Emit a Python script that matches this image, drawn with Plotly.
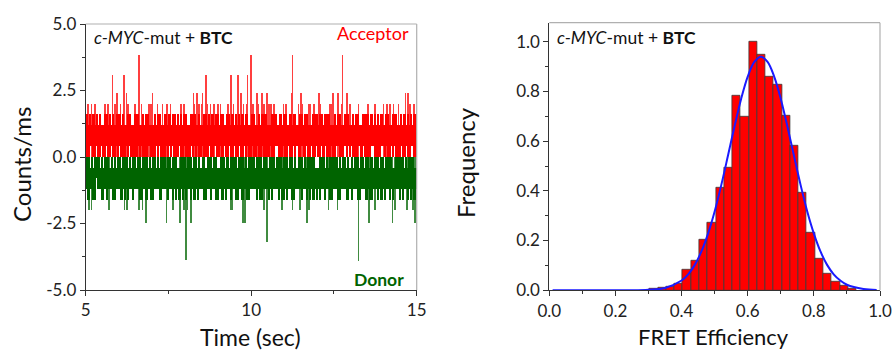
import numpy as np
import plotly.graph_objects as go

# ---------------- data: time trace (counts/ms) ----------------
T_START, T_END = 5.0, 15.0
LEVELS = [0.0, 0.4, 0.8, 1.2, 1.6]   # quantised photon-count levels (counts/ms)

# per 50-ms display bin: pairs of digits (min level, max level) -> index into LEVELS
acceptor_bins = (
    "04031413040314030413" "03041403041304031404" "14030403130414030304"
    "04140313040304141303" "03041304140303041403" "14031404030413040314"
    "04030314041403130403" "13040403140304131404" "03140413030414030413"
    "04031403041304140303" "14040313040314040403" "03130404141303040314"
    "04031304031404130304" "14030414030313040414" "03041403140404031303"
    "04131404030314041403" "13040304141303140404" "04031413040304031413"
    "03140403130414040303" "14030413040314130404"
)
donor_bins = (
    "03041303140402031304" "14030403130314041303" "03140304031403130403"
    "13030414030304130314" "04031303140403031304" "03130403041314030403"
    "14030304130403140313" "03041403030413030414" "13030403140313040303"
    "04140303041303140403" "03031304030414030313" "14030403130304031404"
    "03041303041403130303" "04130314030403041314" "13040303140313040403"
    "03031404130303140413" "04130303041403031304" "03140413030304130403"
    "14030304031413030304" "03041303140304031413"
)

# tall acceptor bursts: (time s, counts/ms)
acc_spike_t = [6.61, 9.98, 11.24, 12.75,
               5.80, 6.14, 8.63, 9.39, 9.60, 9.88,
               5.94, 6.22, 7.01, 8.25, 8.35, 8.52, 9.68, 10.17, 10.31, 10.47,
               11.21, 11.50, 12.05, 12.47, 12.62, 12.89, 14.65, 14.72,
               5.05, 5.17, 5.27, 5.57, 5.67, 5.88, 6.04, 6.26, 6.48, 6.68,
               6.91, 6.96, 7.16, 7.31, 7.45, 7.55, 7.87, 7.97, 8.27, 8.42,
               8.49, 8.67, 8.76, 8.86, 8.98, 9.06, 9.28, 9.46, 9.76, 9.86,
               10.05, 10.21, 10.37, 10.52, 10.59, 10.69, 10.97, 11.05, 11.42,
               11.53, 11.73, 11.78, 11.88, 12.08, 12.38, 12.44, 12.73, 12.98,
               13.23, 13.53, 13.74, 13.99, 14.09, 14.19, 14.29, 14.44, 14.78, 14.90]
acc_spike_v = ([3.85] * 4 + [3.1] * 6 + [2.4] * 18 + [2.0] * 58)

# tall donor bursts: (time s, counts/ms magnitude)
don_spike_t = [8.03, 10.47, 13.23,
               6.81, 7.43, 7.83, 8.17, 9.74, 9.81, 11.67, 13.54, 14.26, 14.95,
               5.10, 5.17, 5.70, 6.16, 6.24, 6.61, 6.71, 7.62, 7.95, 8.07,
               9.38, 9.43, 10.37, 10.92, 11.24, 11.47, 11.73, 12.33, 12.60,
               13.74, 14.34, 14.70, 14.88]
don_spike_v = ([3.86, 3.2, 3.9] + [2.47] * 10 + [2.0] * 23)

# ---------------- data: FRET histogram ----------------
hist_centers = [0.316, 0.341, 0.366, 0.391, 0.416, 0.441, 0.466, 0.491, 0.516,
                0.541, 0.566, 0.591, 0.616, 0.641, 0.666, 0.691, 0.716, 0.741,
                0.766, 0.791, 0.816, 0.841, 0.866, 0.891, 0.916]
hist_freq = [0.005, 0.009, 0.016, 0.027, 0.081, 0.119, 0.202, 0.272, 0.411,
             0.495, 0.783, 0.697, 1.0, 0.95, 0.861, 0.826, 0.702, 0.58,
             0.393, 0.232, 0.125, 0.065, 0.034, 0.018, 0.007]
bin_width = 0.025

fit_x = [0.01, 0.10, 0.20, 0.25, 0.30, 0.35, 0.40, 0.42, 0.44, 0.46, 0.48,
         0.50, 0.52, 0.54, 0.56, 0.58, 0.60, 0.62, 0.64, 0.66, 0.68, 0.70,
         0.72, 0.74, 0.76, 0.78, 0.80, 0.82, 0.84, 0.86, 0.88, 0.90, 0.95, 0.99]
fit_y = [0.0, 0.0, 0.0, 0.0, 0.002, 0.009, 0.039, 0.064, 0.102, 0.156, 0.228,
         0.317, 0.423, 0.540, 0.659, 0.770, 0.860, 0.919, 0.940, 0.919, 0.860,
         0.770, 0.659, 0.540, 0.423, 0.317, 0.228, 0.156, 0.102, 0.064, 0.039,
         0.022, 0.005, 0.001]


def bins_to_bars(s):
    lo = np.array([LEVELS[int(c)] for c in s[0::2]], dtype=float)
    hi = np.array([LEVELS[int(c)] for c in s[1::2]], dtype=float)
    n = len(lo)
    dt = (T_END - T_START) / n
    x = T_START + dt * (np.arange(n) + 0.5)
    return x, lo, hi, dt


FONT = "Lato"
RED = "#ff0000"
GREEN = "#006400"

fig = go.Figure()

for s, st, sv, sign, col in ((acceptor_bins, acc_spike_t, acc_spike_v, 1, RED),
                             (donor_bins, don_spike_t, don_spike_v, -1, GREEN)):
    x, lo, hi, dt = bins_to_bars(s)
    # main burst body: min..max per display bin (slightly overlapping so no seams)
    fig.add_trace(go.Bar(x=x, y=sign * (hi - lo), base=sign * lo, width=dt * 1.35,
                         marker=dict(color=col, line=dict(width=0)),
                         xaxis="x", yaxis="y", hoverinfo="skip"))
    fig.add_trace(go.Bar(x=st, y=[sign * v for v in sv], width=0.022,
                         marker=dict(color=col, line=dict(width=0)), opacity=0.75,
                         xaxis="x", yaxis="y", hoverinfo="skip"))

fig.add_trace(go.Bar(x=hist_centers, y=hist_freq, width=bin_width,
                     marker=dict(color=RED, line=dict(color="#3a3a3a", width=0.8)),
                     xaxis="x2", yaxis="y2"))
fig.add_trace(go.Scatter(x=fit_x, y=fit_y, mode="lines", line_shape="spline",
                         line=dict(color="#1a1aff", width=2), xaxis="x2", yaxis="y2"))

W, H = 895, 352
def px_x(p):
    return p / W
def px_y(p):
    return 1 - p / H

tickfont = dict(family=FONT, size=17, color="#222")
common = dict(showline=True, linecolor="#333", linewidth=1, ticks="outside",
              ticklen=5, tickwidth=1, tickcolor="#333", showgrid=False,
              zeroline=False, tickfont=tickfont, automargin=False)

fig.update_layout(
    width=W, height=H, margin=dict(l=0, r=0, t=0, b=0),
    paper_bgcolor="white", plot_bgcolor="white", showlegend=False,
    barmode="overlay", bargap=0,
    xaxis=dict(domain=[px_x(85.7), px_x(416.7)], range=[5, 15],
               tickvals=[5, 10, 15], ticktext=["5", "10", "15"],
               minor=dict(ticks="outside", ticklen=3, tickcolor="#333", dtick=2.5, tick0=5),
               anchor="y", **common),
    yaxis=dict(domain=[px_y(290), px_y(24)], range=[-5, 5],
               tickvals=[-5, -2.5, 0, 2.5, 5],
               ticktext=["-5.0", "-2.5", "0.0", "2.5", "5.0"],
               minor=dict(ticks="outside", ticklen=3, tickcolor="#333", dtick=1.25, tick0=0),
               anchor="x", **common),
    xaxis2=dict(domain=[px_x(549.3), px_x(880)], range=[0, 1],
                tickvals=[0, 0.2, 0.4, 0.6, 0.8, 1.0],
                ticktext=["0.0", "0.2", "0.4", "0.6", "0.8", "1.0"],
                minor=dict(ticks="outside", ticklen=3, tickcolor="#333", dtick=0.1, tick0=0),
                anchor="y2", **common),
    yaxis2=dict(domain=[px_y(290.2), px_y(22.7)], range=[0, 1.077],
                tickvals=[0, 0.2, 0.4, 0.6, 0.8, 1.0],
                ticktext=["0.0", "0.2", "0.4", "0.6", "0.8", "1.0"],
                minor=dict(ticks="outside", ticklen=3, tickcolor="#333", dtick=0.1, tick0=0),
                anchor="x2", **common),
)

# light grey top/right frame lines
for xr, yr in (("x domain", "y domain"), ("x2 domain", "y2 domain")):
    fig.add_shape(type="line", xref=xr, yref=yr, x0=0, x1=1, y0=1, y1=1,
                  line=dict(color="#b0b0b0", width=1.2))
    fig.add_shape(type="line", xref=xr, yref=yr, x0=1, x1=1, y0=0, y1=1,
                  line=dict(color="#b0b0b0", width=1.2))

ann = [
    dict(text="<i>c-MYC</i>-mut + <b>BTC</b>", x=px_x(92), y=px_y(37),
         xanchor="left", yanchor="middle", font=dict(family=FONT, size=17.5, color="#111")),
    dict(text="Acceptor", x=px_x(411), y=px_y(33), xanchor="right", yanchor="middle",
         font=dict(family=FONT, size=18, color=RED)),
    dict(text="<b>Donor</b>", x=px_x(406), y=px_y(279), xanchor="right", yanchor="middle",
         font=dict(family=FONT, size=17.5, color=GREEN)),
    dict(text="<i>c-MYC</i>-mut + <b>BTC</b>", x=px_x(555), y=px_y(38),
         xanchor="left", yanchor="middle", font=dict(family=FONT, size=17.5, color="#111")),
    dict(text="Time (sec)", x=px_x(251), y=px_y(337), xanchor="center", yanchor="middle",
         font=dict(family=FONT, size=23, color="#111")),
    dict(text="FRET Efficiency", x=px_x(713), y=px_y(336), xanchor="center", yanchor="middle",
         font=dict(family=FONT, size=22, color="#111")),
    dict(text="Counts/ms", x=px_x(21), y=px_y(165), xanchor="center", yanchor="middle",
         textangle=-90, font=dict(family=FONT, size=24, color="#111")),
    dict(text="Frequency", x=px_x(465), y=px_y(162), xanchor="center", yanchor="middle",
         textangle=-90, font=dict(family=FONT, size=24, color="#111")),
]
for a in ann:
    fig.add_annotation(xref="paper", yref="paper", showarrow=False, **a)

fig.write_html("out.html")
